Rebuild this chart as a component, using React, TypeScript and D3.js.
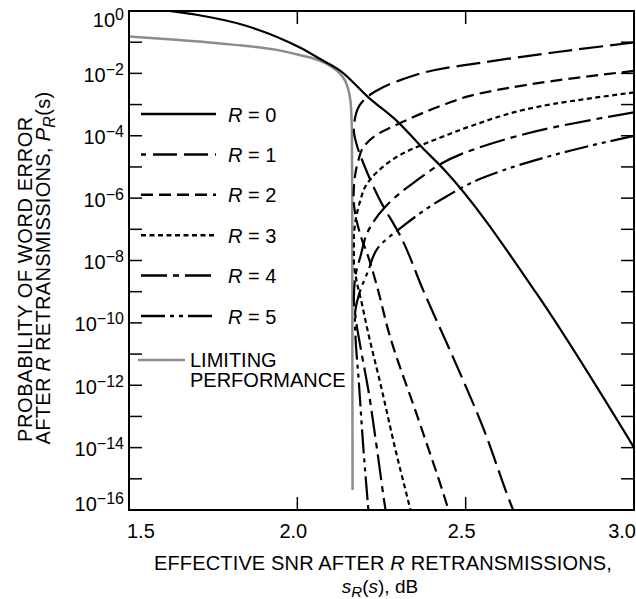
import React from "react";
import * as d3 from "d3";

// Each series: [effective SNR s_R(s) in dB, log10 of word-error probability]
const curveR0: [number, number][] = [
  [1.6, 0.03], [1.62, 0], [1.7, -0.12], [1.85, -0.48], [2.009, -1.18], [2.068, -1.54],
  [2.128, -1.92], [2.211, -2.77], [2.3, -3.57], [2.37, -4.37], [2.439, -5.12],
  [2.71, -9.05], [3.0, -14.0],
];
const curveR1: [number, number][] = [
  [3.0, -1.01], [2.761, -1.33], [2.513, -1.71], [2.439, -1.83], [2.31, -2.2],
  [2.231, -2.58], [2.19, -2.95], [2.172, -3.4], [2.168, -3.85], [2.176, -4.27],
  [2.201, -5.01], [2.241, -5.97], [2.31, -7.3], [2.374, -8.96], [2.462, -11.09],
  [2.547, -13.23], [2.641, -16.0], [2.66, -16.5],
];
const curveR2: [number, number][] = [
  [3.0, -1.92], [2.761, -2.24], [2.513, -2.72], [2.439, -2.99], [2.31, -3.57],
  [2.231, -4.0], [2.196, -4.37], [2.181, -4.8], [2.17, -5.4], [2.167, -6.0],
  [2.172, -6.5], [2.188, -7.2], [2.211, -7.89], [2.24, -8.96], [2.27, -10.24],
  [2.36, -13.1], [2.449, -16.0], [2.46, -16.4],
];
const curveR3: [number, number][] = [
  [3.0, -2.61], [2.761, -2.98], [2.513, -3.7], [2.439, -4.0], [2.31, -4.59],
  [2.241, -5.12], [2.201, -5.65], [2.187, -6.08], [2.175, -6.6], [2.168, -7.3],
  [2.168, -8.0], [2.175, -8.6], [2.19, -9.3], [2.21, -10.3], [2.25, -12.1],
  [2.29, -14.0], [2.336, -16.0], [2.345, -16.4],
];
const curveR4: [number, number][] = [
  [3.0, -3.25], [2.761, -3.73], [2.513, -4.48], [2.34, -5.55], [2.26, -6.29],
  [2.211, -7.04], [2.187, -7.89], [2.172, -8.53], [2.168, -9.2], [2.174, -9.9],
  [2.188, -10.8], [2.21, -12.1], [2.236, -14.0], [2.262, -16.0], [2.268, -16.4],
];
const curveR5: [number, number][] = [
  [3.0, -4.0], [2.81, -4.48], [2.555, -5.33], [2.439, -5.97], [2.31, -6.93],
  [2.241, -7.57], [2.211, -8.32], [2.181, -9.17], [2.171, -9.8], [2.173, -10.5],
  [2.182, -11.8], [2.196, -14.0], [2.211, -16.0], [2.214, -16.4],
];
const curveLimit: [number, number][] = [
  [1.5, -0.82], [1.65, -0.93], [1.8, -1.07], [1.95, -1.27], [2.009, -1.42],
  [2.068, -1.6], [2.11, -1.85], [2.13, -2.05], [2.148, -2.4], [2.158, -2.9],
  [2.162, -3.8], [2.163, -6.0], [2.164, -15.36],
];

const xTicks = [1.5, 2.0, 2.5, 3.0];
const xTickLabels = ["1.5", "2.0", "2.5", "3.0"];
const yDecades = [0, -1, -2, -3, -4, -5, -6, -7, -8, -9, -10, -11, -12, -13, -14, -15, -16];
const yLabelExps = [0, -2, -4, -6, -8, -10, -12, -14, -16];
const legendLabels = ["0", "1", "2", "3", "4", "5"];

const FONT = "'Liberation Sans', Arial, Helvetica, sans-serif";

export default function App() {
  const left = 129, right = 634, top = 11, bottom = 510;
  const x = d3.scaleLinear().domain([1.5, 3.0]).range([left, right]);
  const y = d3.scaleLog().domain([1e-16, 1]).range([bottom, top]);

  const lineY = d3
    .line<[number, number]>()
    .x((d) => x(d[0]))
    .y((d) => y(Math.pow(10, d[1])))
    .curve(d3.curveMonotoneY);
  const lineX = d3
    .line<[number, number]>()
    .x((d) => x(d[0]))
    .y((d) => y(Math.pow(10, d[1])))
    .curve(d3.curveMonotoneX);

  const series = [
    { data: curveR0, dash: "none", gen: lineX },
    { data: curveR1, dash: "24,7", gen: lineY },
    { data: curveR2, dash: "12,6", gen: lineY },
    { data: curveR3, dash: "5,3.5", gen: lineY },
    { data: curveR4, dash: "26,6,6,6", gen: lineY },
    { data: curveR5, dash: "24,5,4,5,4,5", gen: lineY },
  ];
  const legendOffsets = [0, 19, 0, 0, 0, 0];

  const labelBaseline = (e: number) => {
    if (e === 0) return 27;
    if (e === -16) return 511;
    return y(Math.pow(10, e)) + 8.5;
  };

  const xLabelProps = (i: number) => {
    if (i === 0) return { x: 127, anchor: "start" };
    if (i === 3) return { x: 636, anchor: "end" };
    return { x: x(xTicks[i]) - 4, anchor: "middle" };
  };

  return (
    <svg
      width={636}
      height={599}
      style={{ position: "absolute", left: 0, top: 0, background: "#fff" }}
      fontFamily={FONT}
    >
      <defs>
        <clipPath id="plotClip">
          <rect x={left} y={top} width={right - left} height={bottom - top} />
        </clipPath>
      </defs>
      <rect x={0} y={0} width={636} height={599} fill="#fff" />

      {/* curves */}
      <g clipPath="url(#plotClip)" fill="none">
        <path d={lineX(curveLimit) || ""} stroke="#8c8c8c" strokeWidth={2.5} />
        {series.map((s, i) => (
          <path
            key={i}
            d={s.gen(s.data) || ""}
            stroke="#000"
            strokeWidth={2.2}
            strokeDasharray={s.dash}
          />
        ))}
      </g>

      {/* frame */}
      <rect x={left} y={top} width={right - left} height={bottom - top} fill="none" stroke="#000" strokeWidth={2} />

      {/* y ticks */}
      {yDecades.map((e) => {
        const yy = y(Math.pow(10, e));
        return (
          <g key={e} stroke="#000" strokeWidth={1.5}>
            <line x1={left} x2={left + 13} y1={yy} y2={yy} />
            <line x1={right} x2={right - 13} y1={yy} y2={yy} />
          </g>
        );
      })}
      {/* x ticks */}
      {xTicks.map((t) => (
        <g key={t} stroke="#000" strokeWidth={1.5}>
          <line x1={x(t)} x2={x(t)} y1={top} y2={top + 13} />
          <line x1={x(t)} x2={x(t)} y1={bottom} y2={bottom - 13} />
        </g>
      ))}

      {/* y tick labels */}
      {yLabelExps.map((e) => (
        <text key={e} x={124} y={labelBaseline(e)} textAnchor="end" fontSize={20} fill="#000">
          10
          <tspan dy={-7} fontSize={16}>
            {e === 0 ? "0" : "\u2212" + Math.abs(e)}
          </tspan>
        </text>
      ))}

      {/* x tick labels */}
      {xTickLabels.map((lab, i) => {
        const p = xLabelProps(i);
        return (
          <text key={lab} x={p.x} y={538} textAnchor={p.anchor as any} fontSize={20} fill="#000">
            {lab}
          </text>
        );
      })}

      {/* legend */}
      {series.map((s, i) => {
        const ly = 114 + i * 40.4;
        return (
          <g key={"leg" + i}>
            <line
              x1={141}
              x2={216}
              y1={ly}
              y2={ly}
              stroke="#000"
              strokeWidth={2.5}
              strokeDasharray={s.dash}
              strokeDashoffset={legendOffsets[i]}
            />
            <text x={228} y={ly + 7.5} fontSize={20} fill="#000">
              <tspan fontStyle="italic">R</tspan>
              {" = " + legendLabels[i]}
            </text>
          </g>
        );
      })}
      <line x1={138} x2={185} y1={360} y2={360} stroke="#8c8c8c" strokeWidth={2.5} />
      <text x={190} y={367} fontSize={20} fill="#000">LIMITING</text>
      <text x={190} y={387} fontSize={20} fill="#000">PERFORMANCE</text>

      {/* y axis title */}
      <text transform="translate(32,279) rotate(-90)" textAnchor="middle" fontSize={20} fill="#000" letterSpacing={0.6}>
        PROBABILITY OF WORD ERROR
      </text>
      <text transform="translate(50,268) rotate(-90)" textAnchor="middle" fontSize={20} fill="#000" letterSpacing={0.3}>
        AFTER <tspan fontStyle="italic">R</tspan> RETRANSMISSIONS, <tspan fontStyle="italic">P</tspan>
        <tspan fontStyle="italic" fontSize={16} dy={5}>R</tspan>
        <tspan dy={-5}>(s)</tspan>
      </text>

      {/* x axis title */}
      <text x={383} y={570} textAnchor="middle" fontSize={20} fill="#000" letterSpacing={0.15}>
        EFFECTIVE SNR AFTER <tspan fontStyle="italic">R</tspan> RETRANSMISSIONS,
      </text>
      <text x={380} y={593} textAnchor="middle" fontSize={19} fill="#000">
        <tspan fontStyle="italic">s</tspan>
        <tspan fontStyle="italic" fontSize={15} dy={4}>R</tspan>
        <tspan dy={-4}>(</tspan>
        <tspan fontStyle="italic">s</tspan>
        <tspan>), dB</tspan>
      </text>
    </svg>
  );
}
